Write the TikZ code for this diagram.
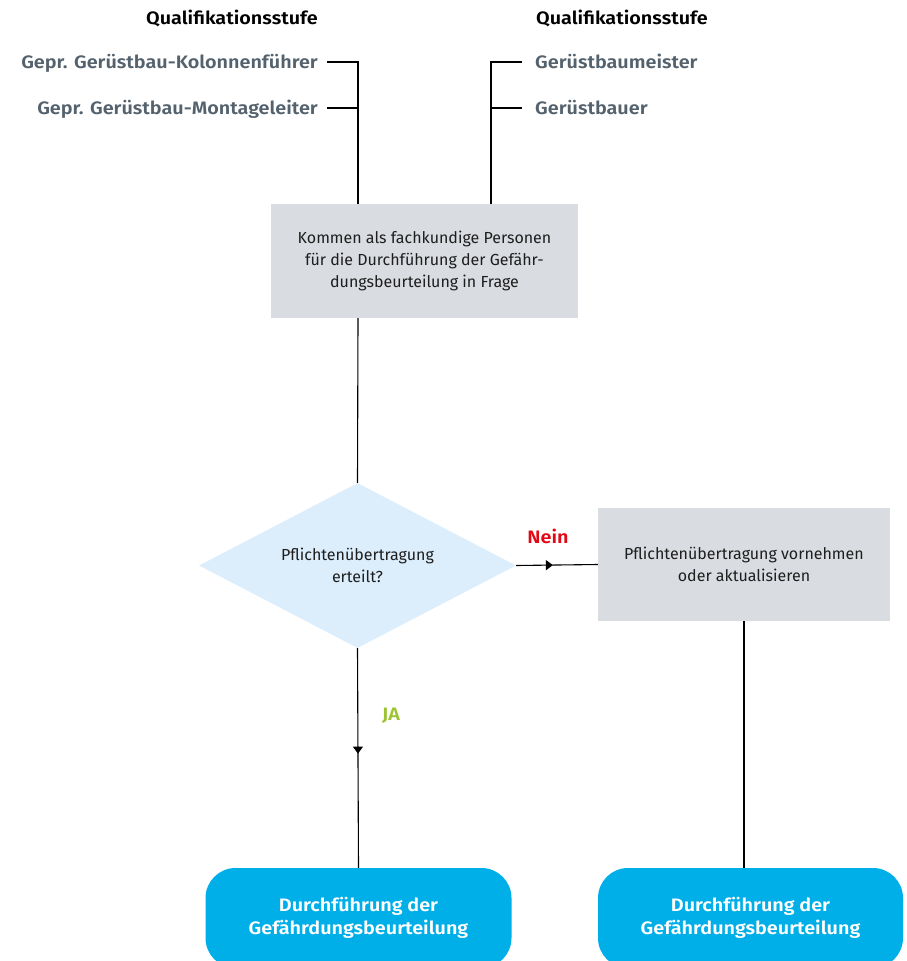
\documentclass[tikz,border=0pt]{standalone}
\usepackage{fontspec}
\setmainfont{Fira Sans}[BoldFont={Fira Sans SemiBold}, BoldFeatures={FakeStretch=1.1}]
\usetikzlibrary{arrows.meta, positioning, shapes.geometric, decorations.markings}
\definecolor{my_gray}{RGB}{217, 220, 225}
\definecolor{my_lightblue}{RGB}{220, 238, 252}
\definecolor{my_cyan}{RGB}{0, 174, 232}
\definecolor{my_slate}{RGB}{84, 98, 110}
\definecolor{my_red}{RGB}{227, 6, 19}
\definecolor{my_green}{RGB}{155, 196, 50}
\definecolor{my_text}{RGB}{30, 30, 30}
\tikzset {
  heading/.style = {font=\fontsize{18}{21}\selectfont\bfseries, inner sep=0, text=black},
  qual/.style = {font=\fontsize{18}{21}\selectfont\bfseries, inner sep=0, text=my_slate},
  task/.style = {rectangle, fill=my_gray, text=my_text, align=center, font=\fontsize{16}{21.7}\selectfont},
  decision/.style = {diamond, aspect=1.92, fill=my_lightblue, text=my_text, align=center, inner sep=0,
                     minimum width=317pt, minimum height=165pt, font=\fontsize{16}{21.7}\selectfont},
  result/.style = {rectangle, rounded corners=30pt, fill=my_cyan, text=white, align=center,
                   minimum width=306pt, minimum height=100pt, font=\fontsize{18}{23}\selectfont\bfseries},
  answer/.style = {font=\fontsize{18}{21}\selectfont\bfseries, inner sep=0},
  line/.style = {draw, line width=1.1pt, color=black},
  % arrow tip in the middle of a connector
  midarrow/.style = {
    decoration={
                 markings,
                 mark=at position #1 with {\arrow{Triangle[length=7pt, width=10pt]}}
            },
            postaction={decorate}
    }
}

\begin{document}
\begin{tikzpicture}[x=1pt, y=-1pt]
    \useasboundingbox (0,0) rectangle (906,961);
    \clip (0,0) rectangle (906,961);

    \node[heading, anchor=base, name=ltitle] (ltitle) at (232,24) {Qualifikationsstufe};
    \node[heading, anchor=base, name=rtitle] (rtitle) at (622,24) {Qualifikationsstufe};

    \node[qual, anchor=base east, name=kol] (kol) at (318,68) {Gepr. Gerüstbau-Kolonnenführer};
    \node[qual, anchor=base east, name=mont] (mont) at (318,114) {Gepr. Gerüstbau-Montageleiter};
    \node[qual, anchor=base west, name=meister] (meister) at (535,68) {Gerüstbaumeister};
    \node[qual, anchor=base west, name=bauer] (bauer) at (535,114) {Gerüstbauer};

    \coordinate (ljoin) at (358,62);
    \coordinate (ljoin2) at (358,108);
    \coordinate (rjoin) at (491,62);
    \coordinate (rjoin2) at (491,108);

    \node[task, minimum width=307pt, minimum height=114pt, name=kommen] (kommen) at (424.5,261)
        {Kommen als fachkundige Personen\\für die Durchführung der Gefähr-\\dungsbeurteilung in Frage};

    \node[decision, name=check] (check) at (357.5,565.5) {Pflichtenübertragung\\erteilt?};
    \node[task, minimum width=292pt, minimum height=113pt, name=update] (update) at (744,564.5)
        {Pflichtenübertragung vornehmen\\oder aktualisieren};

    \node[result, name=res1] (res1) at (358.5,918) {Durchführung der\\Gefährdungsbeurteilung};
    \node[result, minimum width=305pt, name=res2] (res2) at (750.5,918) {Durchführung der\\Gefährdungsbeurteilung};

    \node[answer, text=my_red, name=nein] (nein) at (548,536) {Nein};
    \node[answer, text=my_green, name=ja] (ja) at (391,716) {JA};

    \draw[line, shorten <=9pt] (kol.east |- ljoin) -- (ljoin) -- (ljoin |- kommen.north);
    \draw[line, shorten <=9pt] (mont.east |- ljoin2) -- (ljoin2);
    \draw[line, shorten >=13pt] (rjoin |- kommen.north) -- (rjoin) -- (meister.west |- rjoin);
    \draw[line, shorten >=13pt] (rjoin2) -- (bauer.west |- rjoin2);

    \draw[line] (kommen.south -| ljoin) -- (check.north);
    \draw[line, midarrow=0.45] (check.east) -- (update.west);
    \draw[line, midarrow=0.48] (check.south) -- (res1.north);
    \draw[line] (update.south) -- (update.south |- res2.north);

  \end{tikzpicture}
\end{document}
